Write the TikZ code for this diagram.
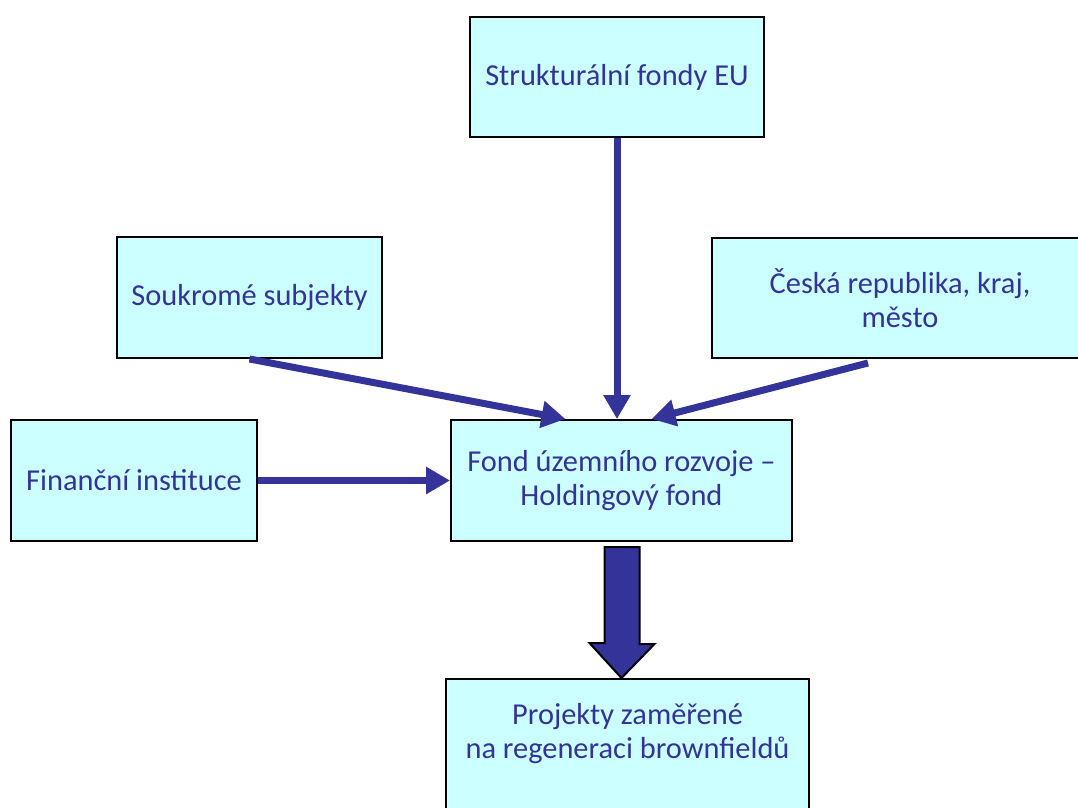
\documentclass[tikz,border=0pt]{standalone}
\usepackage{fontspec}
\setmainfont{Carlito}
\usepackage{tikz}
\usetikzlibrary{positioning,calc,arrows.meta}

\definecolor{boxfill}{HTML}{CCFFFF}
\definecolor{navy}{HTML}{333399}
\tikzset{
  fbox/.style={rectangle,draw=black,line width=1pt,fill=boxfill,text=navy,
    align=center,font=\fontsize{15.2}{17}\selectfont},
  flow/.style={draw=navy,line width=3.5pt,-{Triangle[length=12pt,width=13pt]}},
  bigarrow/.style={fill=navy,draw=black,line width=1pt,line join=miter}
}

\begin{document}
\begin{tikzpicture}[x=0.5pt,y=-0.5pt]
      \useasboundingbox (0,0) rectangle (1078,808);
      \node[fbox,minimum width=147pt,minimum height=60pt] (euf) at (617,77) {Strukturální fondy EU};
      \node[fbox,minimum width=132.5pt,minimum height=60.5pt] (souk) at (249.5,297.5) {Soukromé subjekty};
      \node[fbox,minimum width=188pt,minimum height=60pt] (cr) at (900,298) {Česká republika, kraj,\\ město};
      \node[fbox,minimum width=123pt,minimum height=60.5pt] (fin) at (134,480.5) {Finanční instituce};
      \node[fbox,minimum width=170.5pt,minimum height=60.5pt] (fond) at (621.5,480.5) {Fond územního rozvoje --\\ Holdingový fond};
      \node[fbox,minimum width=181.5pt,anchor=north,inner ysep=12pt,text depth=40pt] (proj) at (627.5,678) {Projekty zaměřené\\ na regeneraci brownfieldů};

      % prispevky do fondu
      \draw[flow] (euf.south) -- (euf.south |- fond.north);
      \draw[flow] (souk.south) -- ($(fond.north)+(-56,0)$);
      \draw[flow] ($(cr.south)+(-32,4)$) -- ($(fond.north)+(30,0)$);
      \draw[flow] (fin.east) -- (fond.west);

      % velka sipka k projektum
      \draw[bigarrow] ($(fond.south)+(-17,5)$) -- ++(35,0) -- ++(0,97) -- ++(15,0)
        -- (fond.south |- proj.north) -- ++(-32,-35) -- ++(15,0) -- cycle;
    \end{tikzpicture}
\end{document}
